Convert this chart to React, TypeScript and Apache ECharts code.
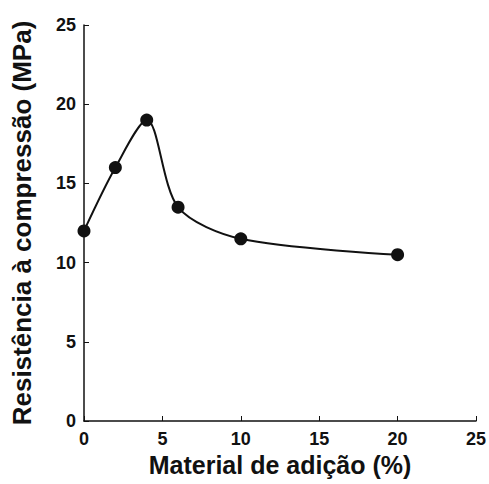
import React, { useEffect, useRef } from "react";
import * as echarts from "echarts";

const xValues = [0, 2, 4, 6, 10, 20];
const yValues = [12, 16, 19, 13.5, 11.5, 10.5];
const xTitle = "Material de adição (%)";
const yTitle = "Resistência à compressão (MPa)";

export default function App() {
  const ref = useRef<HTMLDivElement>(null);
  useEffect(() => {
    if (!ref.current) return;
    const chart = echarts.init(ref.current, undefined, { renderer: "svg" });
    const font = "'Liberation Sans', Arial, sans-serif";
    chart.setOption({
      animation: false,
      backgroundColor: "#fff",
      grid: { left: 84, right: 11, top: 25, bottom: 63 },
      xAxis: {
        type: "value",
        min: 0,
        max: 25,
        interval: 5,
        name: xTitle,
        nameLocation: "middle",
        nameGap: 30,
        nameTextStyle: { fontFamily: font, fontWeight: "bold", fontSize: 25, color: "#111" },
        axisLine: { lineStyle: { color: "#111", width: 1.5 } },
        axisTick: { inside: true, length: 5, lineStyle: { color: "#111" } },
        axisLabel: { fontFamily: font, fontWeight: "bold", fontSize: 18, color: "#111", margin: 9 },
        splitLine: { show: false },
      },
      yAxis: {
        type: "value",
        min: 0,
        max: 25,
        interval: 5,
        name: yTitle,
        nameLocation: "middle",
        nameGap: 49,
        nameTextStyle: { fontFamily: font, fontWeight: "bold", fontSize: 26, color: "#111" },
        axisLine: { show: true, lineStyle: { color: "#111", width: 1.5 } },
        axisTick: { show: true, inside: true, length: 5, lineStyle: { color: "#111" } },
        axisLabel: { fontFamily: font, fontWeight: "bold", fontSize: 18, color: "#111", margin: 8 },
        splitLine: { show: false },
      },
      series: [
        {
          type: "line",
          data: xValues.map((x, i) => [x, yValues[i]]),
          smooth: 0.3,
          symbol: "circle",
          symbolSize: 13,
          itemStyle: { color: "#111" },
          lineStyle: { color: "#111", width: 2 },
        },
      ],
    });
    return () => chart.dispose();
  }, []);
  return (
    <div
      ref={ref}
      style={{ position: "absolute", left: 0, top: 0, width: 489, height: 484 }}
    />
  );
}
